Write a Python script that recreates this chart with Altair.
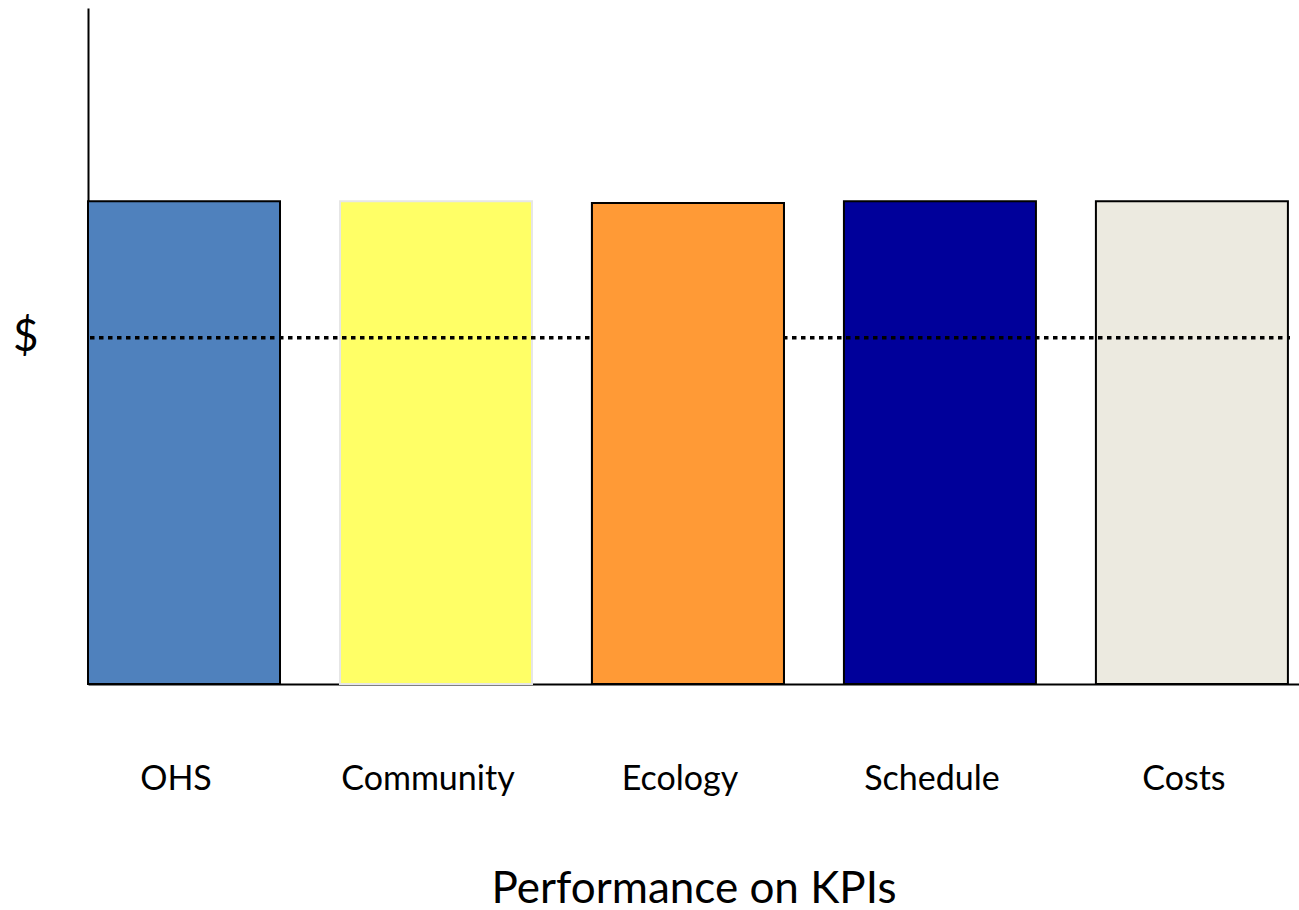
import altair as alt
import pandas as pd

categories = ["OHS", "Community", "Ecology", "Schedule", "Costs"]
values = [100, 100, 99.6, 100, 100]
colors = ["#4F81BD", "#FFFF66", "#FF9A36", "#00009A", "#ECEAE0"]
threshold = 71.7
threshold_label = "$"
x_title = "Performance on KPIs"
on_top = "Ecology"

df = pd.DataFrame({"category": categories, "value": values})

FONT = "Lato"

base = alt.Chart(df).mark_bar(strokeWidth=2, opacity=1).encode(
    x=alt.X(
        "category:N",
        sort=categories,
        scale=alt.Scale(paddingInner=0.238, paddingOuter=0.022, align=0),
        axis=alt.Axis(
            title=x_title,
            labelAngle=0,
            labelFontSize=34,
            labelFont=FONT,
            labelColor="black",
            labelPadding=78,
            labelOffset=-8,
            ticks=False,
            grid=False,
            domainColor="black",
            domainWidth=2,
            titleFont=FONT,
            titleFontSize=44,
            titleFontWeight="normal",
            titleColor="black",
            titlePadding=71,
        ),
    ),
    y=alt.Y(
        "value:Q",
        scale=alt.Scale(domain=[0, 140], nice=False),
        axis=alt.Axis(
            title=None,
            values=[threshold],
            labelExpr="'" + threshold_label + "'",
            labelFontSize=44,
            labelFont=FONT,
            labelColor="black",
            labelPadding=50,
            ticks=False,
            grid=False,
            domainColor="black",
            domainWidth=2,
        ),
    ),
    color=alt.Color("category:N", scale=alt.Scale(domain=categories, range=colors), legend=None),
    stroke=alt.condition(alt.datum.category == "Community", alt.value("#E6E6E6"), alt.value("black")),
)

bars = base
top_bar = base.transform_filter(alt.datum.category == on_top)

rule = alt.Chart(pd.DataFrame({"y": [threshold]})).mark_rule(
    color="black", strokeWidth=3.5, strokeDash=[4.5, 4.5]
).encode(y="y:Q", x=alt.value(2), x2=alt.value(1202))

chart = alt.layer(bars, rule, top_bar).properties(
    width=1211,
    height=676,
    autosize=alt.AutoSizeParams(type="none"),
    padding={"left": 88, "top": 8, "right": 0, "bottom": 226},
    view=alt.ViewBackground(stroke="transparent", strokeWidth=0),
).configure_view(stroke="transparent", strokeWidth=0).configure_axis(grid=False).configure(background="white")

chart.save("out.html", embed_options={"renderer": "svg", "actions": False})
